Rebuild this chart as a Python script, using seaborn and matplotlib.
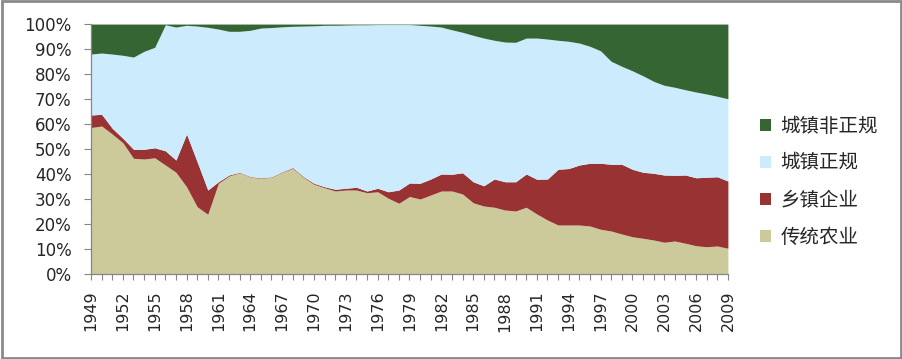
import matplotlib
matplotlib.use("Agg")
import matplotlib.pyplot as plt
from matplotlib.patches import Patch, Rectangle
from matplotlib.ticker import PercentFormatter
import seaborn as sns

# years on the x axis
years = list(range(1949, 2010))

# shares (%) of each sector
traditional_agri = [58.6, 59.2, 56.0, 52.5, 46.3, 46.0, 46.5, 43.6, 40.7, 34.9,
                    26.9, 23.9, 36.3, 39.2, 40.5, 38.8, 38.3, 38.7, 40.7, 42.3,
                    38.7, 35.9, 34.5, 33.2, 33.6, 33.6, 32.5, 32.9, 30.3, 28.3,
                    31.0, 30.0, 31.6, 33.2, 33.2, 32.0, 28.5, 27.2, 26.7, 25.6,
                    25.2, 26.7, 24.0, 21.6, 19.6, 19.6, 19.6, 19.2, 17.9, 17.2,
                    16.0, 14.9, 14.3, 13.6, 12.7, 13.2, 12.3, 11.3, 10.9, 11.2,
                    10.3]
township_ent = [5.0, 4.7, 2.3, 1.8, 3.6, 3.9, 4.0, 5.7, 4.9, 21.1,
                18.0, 9.7, 0.6, 0.4, 0.2, 0.2, 0.2, 0.2, 0.2, 0.3,
                0.3, 0.4, 0.4, 0.7, 0.7, 1.1, 0.7, 1.4, 2.6, 5.3,
                5.4, 6.3, 6.4, 6.8, 6.7, 8.5, 8.4, 8.1, 11.3, 11.3,
                11.7, 13.3, 13.9, 16.4, 22.3, 22.6, 24.0, 25.1, 26.4, 26.7,
                27.9, 27.0, 26.4, 26.7, 26.9, 26.3, 27.3, 27.2, 27.8, 27.7,
                26.9]
urban_formal = [24.4, 24.5, 29.7, 33.2, 36.9, 39.2, 40.2, 50.4, 53.2, 43.5,
                54.3, 65.1, 61.1, 57.5, 56.4, 58.5, 59.9, 59.7, 58.0, 56.5,
                60.2, 63.0, 64.6, 65.6, 65.3, 65.0, 66.5, 65.5, 66.9, 66.2,
                63.4, 63.2, 61.2, 58.8, 57.8, 56.2, 58.6, 59.1, 55.5, 55.9,
                55.8, 54.4, 56.5, 56.0, 51.6, 50.9, 48.8, 46.8, 45.0, 41.2,
                39.2, 39.4, 38.6, 36.8, 35.9, 35.2, 34.1, 34.3, 33.3, 32.2,
                32.9]
urban_informal = [12.0, 11.6, 12.0, 12.5, 13.2, 10.9, 9.3, 0.3, 1.2, 0.5,
                  0.8, 1.3, 2.0, 2.9, 2.9, 2.5, 1.6, 1.4, 1.1, 0.9,
                  0.8, 0.7, 0.5, 0.5, 0.4, 0.3, 0.3, 0.2, 0.2, 0.2,
                  0.2, 0.5, 0.8, 1.2, 2.3, 3.3, 4.5, 5.6, 6.5, 7.2,
                  7.3, 5.6, 5.6, 6.0, 6.5, 6.9, 7.6, 8.9, 10.7, 14.9,
                  16.9, 18.7, 20.7, 22.9, 24.5, 25.3, 26.3, 27.2, 28.0, 28.9,
                  29.9]

series_names = ["传统农业", "乡镇企业", "城镇正规", "城镇非正规"]
colors = ["#CCCA9A", "#993333", "#CCEBFC", "#356533"]

sns.set_style("white")
plt.rcParams["font.family"] = ["Noto Sans CJK SC", "DejaVu Sans"]

fig = plt.figure(figsize=(9.03, 3.59), dpi=100)
ax = fig.add_axes([0.1008, 0.2368, 0.7053, 0.6962])

ax.stackplot(years, traditional_agri, township_ent, urban_formal, urban_informal,
             colors=colors, linewidth=0)

ax.set_xlim(years[0], years[-1])
ax.set_ylim(0, 100)
ax.set_yticks(range(0, 101, 10))
ax.yaxis.set_major_formatter(PercentFormatter(decimals=0))
ax.set_xticks(years)
ax.set_xticklabels([str(y) if (y - 1949) % 3 == 0 else "" for y in years],
                   rotation=90, family="DejaVu Sans", fontsize=11.5)
for lab in ax.get_yticklabels():
    lab.set_family("DejaVu Sans")
    lab.set_fontsize(12)

for side in ["top", "right"]:
    ax.spines[side].set_visible(False)
for side in ["left", "bottom"]:
    ax.spines[side].set_color("#868686")
    ax.spines[side].set_linewidth(0.9)
ax.tick_params(axis="y", direction="out", length=5, width=0.8, color="#868686", pad=9,
               left=True)
ax.tick_params(axis="x", direction="out", length=4, width=0.8, color="#868686", pad=8,
               bottom=True)

handles = [Patch(facecolor=c, edgecolor="none") for c in colors][::-1]
fig.legend(handles, series_names[::-1], loc="center left",
           bbox_to_anchor=(0.822, 0.494), frameon=False, fontsize=14,
           handlelength=0.6, handleheight=0.6, handletextpad=0.45, labelspacing=0.82)

fig.patches.append(Rectangle((0.002, 0.004), 0.996, 0.992, transform=fig.transFigure,
                             fill=False, edgecolor="#8a8a8a", linewidth=2))

fig.savefig("out.png", dpi=100)
